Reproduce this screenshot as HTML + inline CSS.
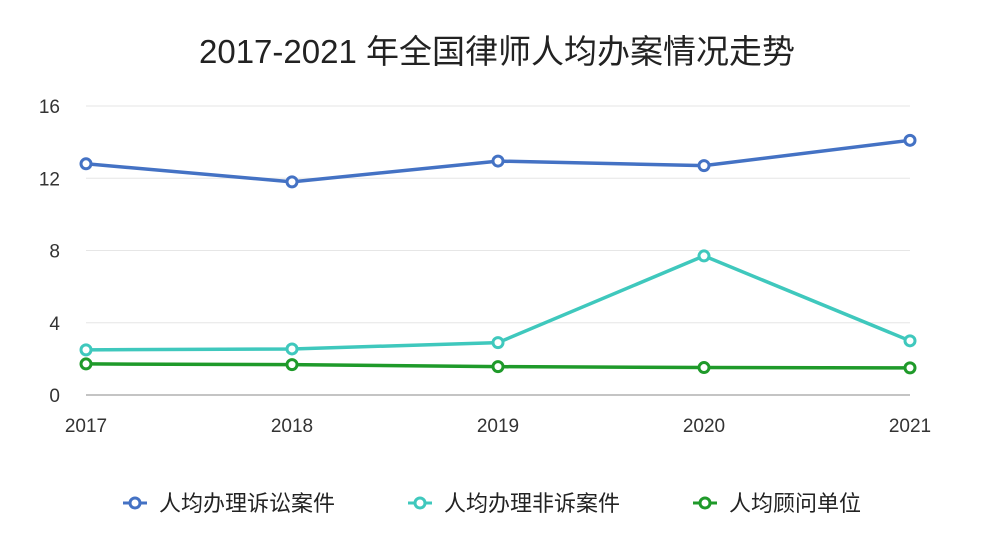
<!DOCTYPE html>
<html><head><meta charset="utf-8"><style>
body{margin:0;background:#fff;width:986px;height:549px;overflow:hidden;font-family:"Liberation Sans","Noto Sans CJK SC",sans-serif;}
</style></head><body>
<svg id="chart" width="986" height="549" xmlns="http://www.w3.org/2000/svg">
<text x="497" y="63" text-anchor="middle" font-size="33" fill="#222" font-family="Liberation Sans, Noto Sans CJK SC, sans-serif">2017-2021 年全国律师人均办案情况走势</text>
<g id="grid"></g><g id="axes"></g><g id="series"></g><g id="legend"></g>
</svg>
<script>
const categories=['2017','2018','2019','2020','2021'];
const yTicks=[0,4,8,12,16];
const seriesNames=['人均办理诉讼案件','人均办理非诉案件','人均顾问单位'];
const litigation=[12.8,11.8,12.95,12.7,14.1];
const nonLitigation=[2.5,2.55,2.9,7.7,3.0];
const advisory=[1.72,1.68,1.57,1.52,1.5];
const colors=['#4472c4','#3fc8bd','#1f9a2a'];
const NS='http://www.w3.org/2000/svg';
const x0=86,x1=910,yB=395,yT=106;
const xs=i=>x0+(x1-x0)*i/(categories.length-1);
const ys=v=>yB-(yB-yT)*v/16;
function mk(t,a,p){const e=document.createElementNS(NS,t);for(const k in a)e.setAttribute(k,a[k]);p.appendChild(e);return e;}
const grid=document.getElementById('grid'),axes=document.getElementById('axes'),ser=document.getElementById('series'),leg=document.getElementById('legend');
yTicks.forEach(v=>{
 const l=mk('line',{x1:x0,x2:x1,y1:ys(v),y2:ys(v),stroke:v===0?'#888':'#e6e6e6','stroke-width':1},grid);
 
 
 const t=mk('text',{x:60,y:ys(v)+7,'text-anchor':'end','font-size':19,fill:'#333'},axes);
 t.textContent=v;
 
 
});
categories.forEach((c,i)=>{
 const t=mk('text',{x:xs(i),y:432,'text-anchor':'middle','font-size':19,fill:'#333'},axes);
 t.textContent=c;
 
 
});
[litigation,nonLitigation,advisory].forEach((d,s)=>{
 const g=mk('g',{},ser);
 
 
 const p=mk('polyline',{points:d.map((v,i)=>xs(i)+','+ys(v)).join(' '),fill:'none',stroke:colors[s],'stroke-width':3.5},g);
 
 
 d.forEach((v,i)=>{
  const c=mk('circle',{cx:xs(i),cy:ys(v),r:5,fill:'#fff',stroke:colors[s],'stroke-width':3},g);
  
  
 });
});
const lx=[135,420,705];
seriesNames.forEach((n,s)=>{
 const g=mk('g',{},leg);
 
 
 mk('line',{x1:lx[s]-12,x2:lx[s]+12,y1:503,y2:503,stroke:colors[s],'stroke-width':3},g);
 mk('circle',{cx:lx[s],cy:503,r:5,fill:'#fff',stroke:colors[s],'stroke-width':3},g);
 const t=mk('text',{x:lx[s]+24,y:511,'font-size':22,fill:'#222'},g);
 t.textContent=n;
});
</script>
</body></html>
